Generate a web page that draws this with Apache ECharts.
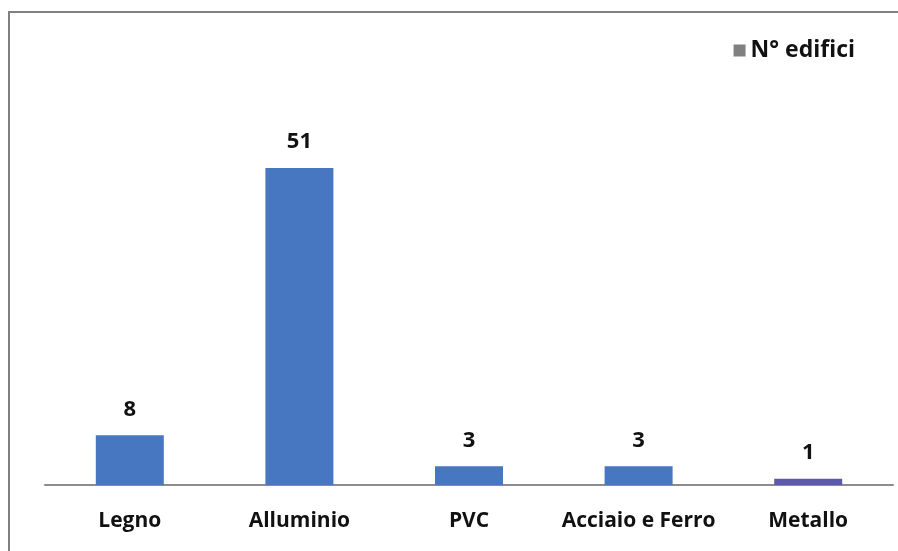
<!DOCTYPE html>
<html>
<head>
<meta charset="utf-8">
<script src="https://cdn.jsdelivr.net/npm/echarts@6/dist/echarts.min.js"></script>
<style>
  html, body { margin: 0; padding: 0; background: #fff; }
  #chart { width: 898px; height: 551px; }
</style>
</head>
<body>
<div id="chart"></div>
<script>
const categories = ['Legno', 'Alluminio', 'PVC', 'Acciaio e Ferro', 'Metallo']
const edifici = [8, 51, 3, 3, 1]
const seriesName = 'N° edifici'

const barColor = '#4677c0'
const lastColor = '#5c5aa8'

const ChartEl = echarts.init(document.getElementById('chart'))

const options = {
  animation: false,
  textStyle: { fontFamily: 'Open Sans' },
  graphic: [
    {
      type: 'rect',
      shape: { x: 9, y: 12, width: 900, height: 560 },
      style: { fill: 'none', stroke: '#808080', lineWidth: 2 },
      silent: true
    }
  ],
  legend: {
    right: 38,
    top: 34,
    itemWidth: 12,
    itemHeight: 12,
    itemGap: 8,
    icon: 'rect',
    textStyle: { fontSize: 23, fontWeight: 'bold', color: '#111' },
    data: [{ name: seriesName, itemStyle: { color: '#808080' } }]
  },
  grid: {
    left: 45,
    right: 5,
    top: 112,
    bottom: 66
  },
  xAxis: {
    type: 'category',
    data: categories,
    axisTick: { show: false },
    axisLine: { lineStyle: { color: '#8c8c8c', width: 2 } },
    axisLabel: { interval: 0, fontSize: 21, fontWeight: 'bold', color: '#111', margin: 26 }
  },
  yAxis: {
    type: 'value',
    min: 0,
    max: 60,
    show: false,
    splitLine: { show: false }
  },
  series: [
    {
      name: seriesName,
      type: 'bar',
      barWidth: 68,
      data: edifici.map((v, i) => ({
        value: v,
        itemStyle: { color: i === edifici.length - 1 ? lastColor : barColor }
      })),
      label: {
        show: true,
        position: 'top',
        distance: 15,
        fontSize: 22,
        fontWeight: 'bold',
        color: '#111'
      }
    }
  ]
}

ChartEl.setOption(options)
</script>
</body>
</html>
